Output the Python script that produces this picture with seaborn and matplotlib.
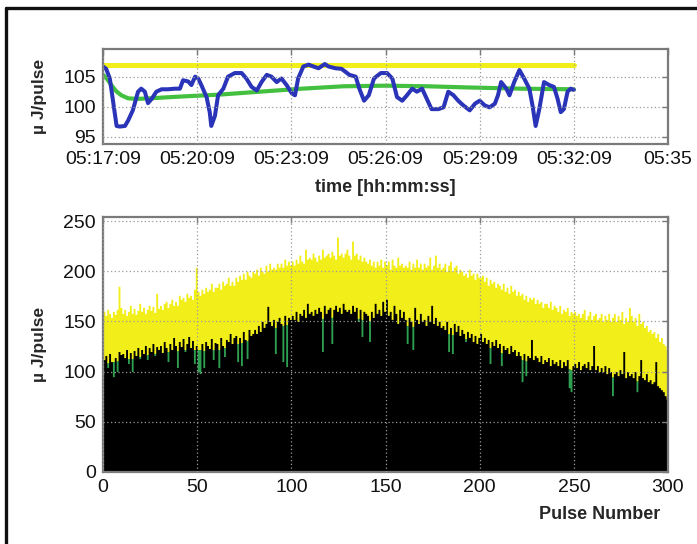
import numpy as np
import pandas as pd
import matplotlib
matplotlib.use("Agg")
import matplotlib.pyplot as plt
from matplotlib.lines import Line2D
import seaborn as sns

# ---------------- data ----------------
# top panel: seconds after 05:17:09 and energy (uJ/pulse)
blue_points = [
    (0, 106.7), (6, 106.3), (13, 104.7), (26, 96.8), (32, 96.7), (42, 96.8), (48, 97.7),
    (57, 99.4), (67, 102.5), (73, 103.0), (80, 102.5), (86, 100.6), (93, 101.3), (102, 102.5),
    (112, 102.9), (124, 102.9), (137, 103.0), (147, 103.0), (153, 104.4), (163, 104.2),
    (169, 103.6), (176, 105.0), (182, 104.7), (188, 103.6), (198, 101.6), (204, 99.1),
    (207, 96.8), (214, 98.5), (220, 101.9), (230, 103.0), (239, 105.0), (252, 105.6),
    (265, 105.6), (274, 104.7), (284, 103.3), (294, 102.7), (303, 104.1), (313, 105.3),
    (322, 105.0), (332, 104.1), (341, 104.7), (351, 103.6), (361, 102.2), (367, 101.9),
    (373, 104.7), (383, 106.7), (393, 107.0), (402, 106.7), (412, 106.4), (424, 107.1),
    (431, 106.7), (444, 106.4), (456, 106.3), (471, 105.3), (483, 105.0), (490, 103.0),
    (499, 101.0), (508, 101.9), (518, 104.7), (531, 105.6), (543, 105.6), (553, 104.7),
    (562, 101.6), (572, 101.0), (581, 101.9), (591, 103.0), (600, 102.5), (610, 103.0),
    (619, 101.3), (628, 99.6), (641, 99.6), (651, 99.9), (660, 102.5), (670, 101.9),
    (679, 101.0), (689, 100.2), (701, 99.4), (711, 100.5), (720, 101.0), (730, 100.2),
    (739, 99.9), (749, 100.5), (755, 101.9), (761, 104.1), (771, 103.0), (777, 101.9),
    (786, 104.1), (796, 106.1), (805, 104.7), (815, 103.0), (821, 100.2), (827, 96.8),
    (834, 99.6), (843, 104.1), (853, 103.6), (862, 103.3), (869, 101.3), (875, 99.1),
    (881, 99.6), (888, 102.5), (894, 103.0), (900, 102.8),
]
green_points = [
    (0, 105.3), (8, 104.6), (16, 103.6), (25, 102.6), (35, 101.9), (48, 101.4), (65, 101.3),
    (90, 101.4), (150, 101.7), (220, 102.0), (300, 102.5), (380, 103.0), (460, 103.4),
    (540, 103.5), (620, 103.4), (700, 103.2), (800, 103.0), (900, 102.9),
]
yellow_points = [(0, 107.0), (900, 107.0)]
time_ticks = [0, 180, 360, 540, 720, 900, 1080]
time_labels = ["05:17:09", "05:20:09", "05:23:09", "05:26:09", "05:29:09", "05:32:09", "05:35"]

# bottom panel: per-pulse energies (uJ/pulse), pulses 1..300
yellow_pulse = [
    160,156,162,158,154,160,157,162,185,164, 158,162,156,160,166,158,163,157,161,168,
    160,164,158,162,166,161,165,159,178,163, 166,162,168,170,164,168,172,166,170,166,
    176,172,174,170,178,174,176,172,182,204, 180,176,182,178,184,180,182,188,180,184,
    184,188,182,190,186,188,194,186,190,186, 194,190,196,192,198,192,200,196,194,200,
    198,202,196,204,200,198,206,200,208,202, 204,202,208,204,208,204,212,206,210,206,
    210,206,212,208,216,210,208,222,212,214, 212,218,214,210,216,212,222,214,216,218,
    214,220,216,212,234,216,218,214,218,222, 216,212,230,216,218,212,216,210,214,210,
    208,212,206,210,204,210,206,212,204,210, 206,210,202,212,206,204,214,206,208,204,
    206,204,210,202,208,204,212,204,208,202, 208,204,206,214,202,206,216,204,208,202,
    204,208,200,206,210,200,204,206,198,202, 200,196,198,194,202,196,198,192,198,194,
    194,196,190,194,186,192,188,190,184,188, 186,182,188,180,184,178,186,180,182,176,
    180,176,178,172,176,170,174,172,174,168, 172,168,170,164,168,168,164,170,162,166,
    164,160,166,158,162,160,164,156,160,158, 160,156,158,154,158,162,152,156,160,152,
    156,158,152,154,158,150,156,152,158,150, 154,158,150,156,152,160,148,154,150,164,
    156,150,154,146,158,148,150,144,146,140, 142,138,140,134,138,130,134,128,126,122,
]
green_pulse = [
    108,108,109,109,110,110,110,111,111,112, 112,112,113,113,113,113,114,114,115,115,
    115,116,116,117,117,117,118,118,119,119, 119,119,120,120,120,120,120,121,121,121,
    121,121,122,122,122,122,122,122,122,122, 122,122,122,121,121,121,121,121,122,122,
    122,122,123,123,124,124,125,125,126,126, 127,128,128,129,130,130,131,132,133,133,
    134,135,136,136,137,138,139,140,141,142, 143,144,144,145,146,146,147,147,148,148,
    148,149,149,150,150,150,151,151,152,152, 152,152,153,153,153,153,153,154,154,154,
    154,154,155,155,155,155,155,155,155,154, 154,154,154,154,153,153,153,152,152,152,
    151,151,151,150,150,150,150,149,149,149, 148,148,148,148,147,147,147,147,146,146,
    146,146,146,145,145,145,145,145,144,144, 144,144,143,143,142,142,141,141,140,140,
    139,139,138,138,137,137,136,136,135,135, 134,133,133,132,131,130,129,129,128,128,
    127,126,126,125,124,124,123,122,121,121, 120,119,119,118,117,117,116,115,115,114,
    114,113,112,112,111,111,110,109,109,108, 108,107,107,106,106,106,105,105,105,105,
    105,104,104,104,103,103,103,103,102,102, 102,101,101,101,100,100,100,100,99,99,
    99,98,98,98,97,97,97,96,96,95, 95,95,94,94,93,93,93,92,92,92,
    92,91,91,91,90,90,90,89,89,88, 86,85,84,83,82,80,78,76,73,70,
]
black_pulse = [
    112,116,104,118,110,95,114,100,120,117, 118,114,122,108,119,100,121,116,124,113,
    122,118,126,112,124,120,128,116,125,122, 126,119,130,124,110,128,122,134,126,104,
    130,125,133,120,128,135,124,131,108,126, 100,98,128,104,130,126,123,133,112,129,
    128,104,134,126,115,132,130,138,128,134, 136,110,134,106,140,132,113,142,136,138,
    142,138,146,140,150,144,148,165,150,146, 152,118,150,154,148,110,156,105,154,152,
    156,152,160,150,158,156,162,154,168,158, 160,156,162,158,164,160,120,166,158,162,
    164,128,162,166,160,164,158,168,162,160, 162,158,166,160,164,150,162,135,160,158,
    156,130,160,154,168,158,162,156,170,160, 172,156,160,152,166,158,148,162,154,160,
    152,128,154,150,122,164,152,148,158,150, 152,146,156,150,166,148,154,146,150,144,
    146,142,150,120,144,118,148,140,146,136, 142,138,130,140,134,138,130,136,128,134,
    138,130,134,128,132,108,130,126,132,124, 128,106,126,122,124,118,126,120,122,116,
    120,116,90,118,96,116,114,132,112,116, 114,110,116,108,112,110,114,106,112,108,
    110,106,112,104,110,106,112,84,80,106, 108,104,110,102,106,108,104,110,102,106,
    126,102,106,100,104,100,106,98,104,100, 76,98,100,96,102,98,120,94,100,96,
    98,94,100,80,96,112,94,92,98,90, 92,88,90,110,86,84,82,80,76,72,
]

# ---------------- style ----------------
sns.set_style("white")
plt.rcParams["font.family"] = ["Liberation Sans", "DejaVu Sans"]

C_YEL = "#f2ee1a"
C_BLUE = "#2a34b8"
C_GRN = "#44c040"
C_BGRN = "#2e9e50"
FRAME = "#7a7a7a"

fig = plt.figure(figsize=(6.97, 5.44), dpi=100)
W, H = 697, 544

def axes_px(l, t, r, b):
    return fig.add_axes([l / W, 1 - b / H, (r - l) / W, (b - t) / H])

ax1 = axes_px(103, 49, 668, 144)
ax2 = axes_px(103, 217, 668, 472)

def style_axes(ax):
    for s in ax.spines.values():
        s.set_color(FRAME)
        s.set_linewidth(1.6)
    ax.grid(True, linestyle=(0, (1, 2)), color="#9a9a9a", linewidth=0.9)
    ax.tick_params(direction="in", length=4, width=1, color=FRAME,
                   top=True, right=True, labelsize=14, pad=5, labelcolor="#111111")
    ax.set_axisbelow(False)

# ---- top panel ----
bt, bv = zip(*blue_points)
gt, gv = zip(*green_points)
yt, yv = zip(*yellow_points)
sns.lineplot(x=list(yt), y=list(yv), ax=ax1, color=C_YEL, linewidth=3.6)
sns.lineplot(x=list(gt), y=list(gv), ax=ax1, color=C_GRN, linewidth=3.0)
sns.lineplot(x=list(bt), y=list(bv), ax=ax1, color=C_BLUE, linewidth=2.9)
ax1.set_xlim(0, 1080)
ax1.set_ylim(93.8, 109.6)
ax1.set_xticks(time_ticks)
ax1.set_xticklabels(time_labels)
ax1.set_yticks([95, 100, 105])
ax1.set_xlabel("time [hh:mm:ss]", fontsize=13, fontweight="bold", labelpad=8)
ax1.set_ylabel("\u00b5 J/pulse", fontsize=12.5, fontweight="bold", labelpad=12)
style_axes(ax1)

# ---- bottom panel ----
pulses = np.arange(1, len(yellow_pulse) + 1) - 0.5
df = pd.DataFrame({"pulse": pulses, "yellow": yellow_pulse,
                   "green": green_pulse, "black": black_pulse})
for col, colr in [("yellow", C_YEL), ("green", C_BGRN), ("black", "#000000")]:
    sns.histplot(data=df, x="pulse", weights=col, bins=300, binrange=(0, 300),
                 element="step", fill=True, color=colr, alpha=1, linewidth=0, ax=ax2)
ax2.set_xlim(0, 300)
ax2.set_ylim(0, 254)
ax2.set_xticks([0, 50, 100, 150, 200, 250, 300])
ax2.set_yticks([0, 50, 100, 150, 200, 250])
ax2.set_xlabel("Pulse Number", fontsize=13, fontweight="bold", ha="right")
ax2.xaxis.set_label_coords(557 / 565, -0.135)
ax2.set_ylabel("\u00b5 J/pulse", fontsize=12.5, fontweight="bold", labelpad=12)
style_axes(ax2)

# outer frame (top and left edges of the cropped figure)
fig.add_artist(Line2D([6 / W, 1], [1 - 8 / H, 1 - 8 / H], transform=fig.transFigure,
                      color="#111111", linewidth=2.4))
fig.add_artist(Line2D([6 / W, 6 / W], [0, 1 - 8 / H], transform=fig.transFigure,
                      color="#111111", linewidth=2.4))

fig.savefig("out.png", dpi=100)
